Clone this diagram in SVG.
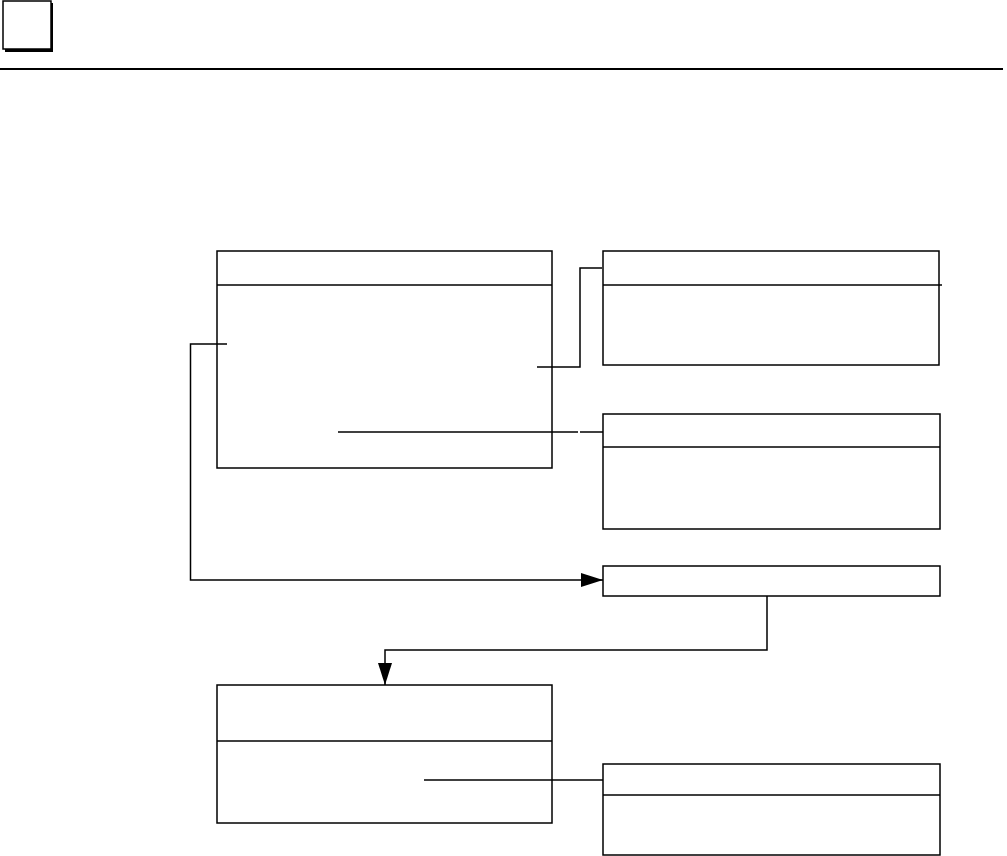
<svg xmlns="http://www.w3.org/2000/svg" width="1007" height="856" viewBox="0 0 1007 856">
<style>
.box{fill:#fff;stroke:#000;stroke-width:1.5}
.ln{fill:none;stroke:#000;stroke-width:1.5}
</style>
<defs>
<marker id="ah" markerWidth="22" markerHeight="14" refX="22" refY="7" orient="auto" markerUnits="userSpaceOnUse">
<path d="M0,0 L22,7 L0,14 Z" fill="#000"/>
</marker>
</defs>
<rect width="1007" height="856" fill="#fff"/>
<g id="header">
<rect x="5" y="3" width="48" height="49" fill="#000"/>
<rect x="3" y="1" width="48" height="48" fill="#fff" stroke="#000" stroke-width="1.5"/>
<line x1="0" y1="69" x2="1003" y2="69" stroke="#000" stroke-width="2"/>
</g>
<g id="nodeA">
<rect class="box" x="217" y="251" width="335" height="217"/>
<line class="ln" x1="217" y1="285" x2="552" y2="285"/>
</g>
<g id="nodeB">
<rect class="box" x="603" y="251" width="336" height="114"/>
<line class="ln" x1="603" y1="285" x2="942" y2="285"/>
</g>
<g id="nodeC">
<rect class="box" x="603" y="414" width="337" height="115"/>
<line class="ln" x1="603" y1="447" x2="940" y2="447"/>
</g>
<g id="nodeD">
<rect class="box" x="603" y="566" width="337" height="30"/>
</g>
<g id="nodeE">
<rect class="box" x="217" y="685" width="335" height="138"/>
<line class="ln" x1="217" y1="741" x2="552" y2="741"/>
</g>
<g id="nodeF">
<rect class="box" x="603" y="764" width="337" height="91"/>
<line class="ln" x1="603" y1="795" x2="940" y2="795"/>
</g>
<g id="connectors">
<polyline class="ln" points="227,344 190.5,344 190.5,580 603,580" marker-end="url(#ah)"/>
<polyline class="ln" points="537,367 580,367 580,268 602,268"/>
<line class="ln" x1="338" y1="432" x2="578" y2="432"/>
<line class="ln" x1="580" y1="432" x2="603" y2="432"/>
<polyline class="ln" points="767,596 767,650 385,650 385,685" marker-end="url(#ah)"/>
<line class="ln" x1="424" y1="780" x2="603" y2="780"/>
</g>
</svg>
